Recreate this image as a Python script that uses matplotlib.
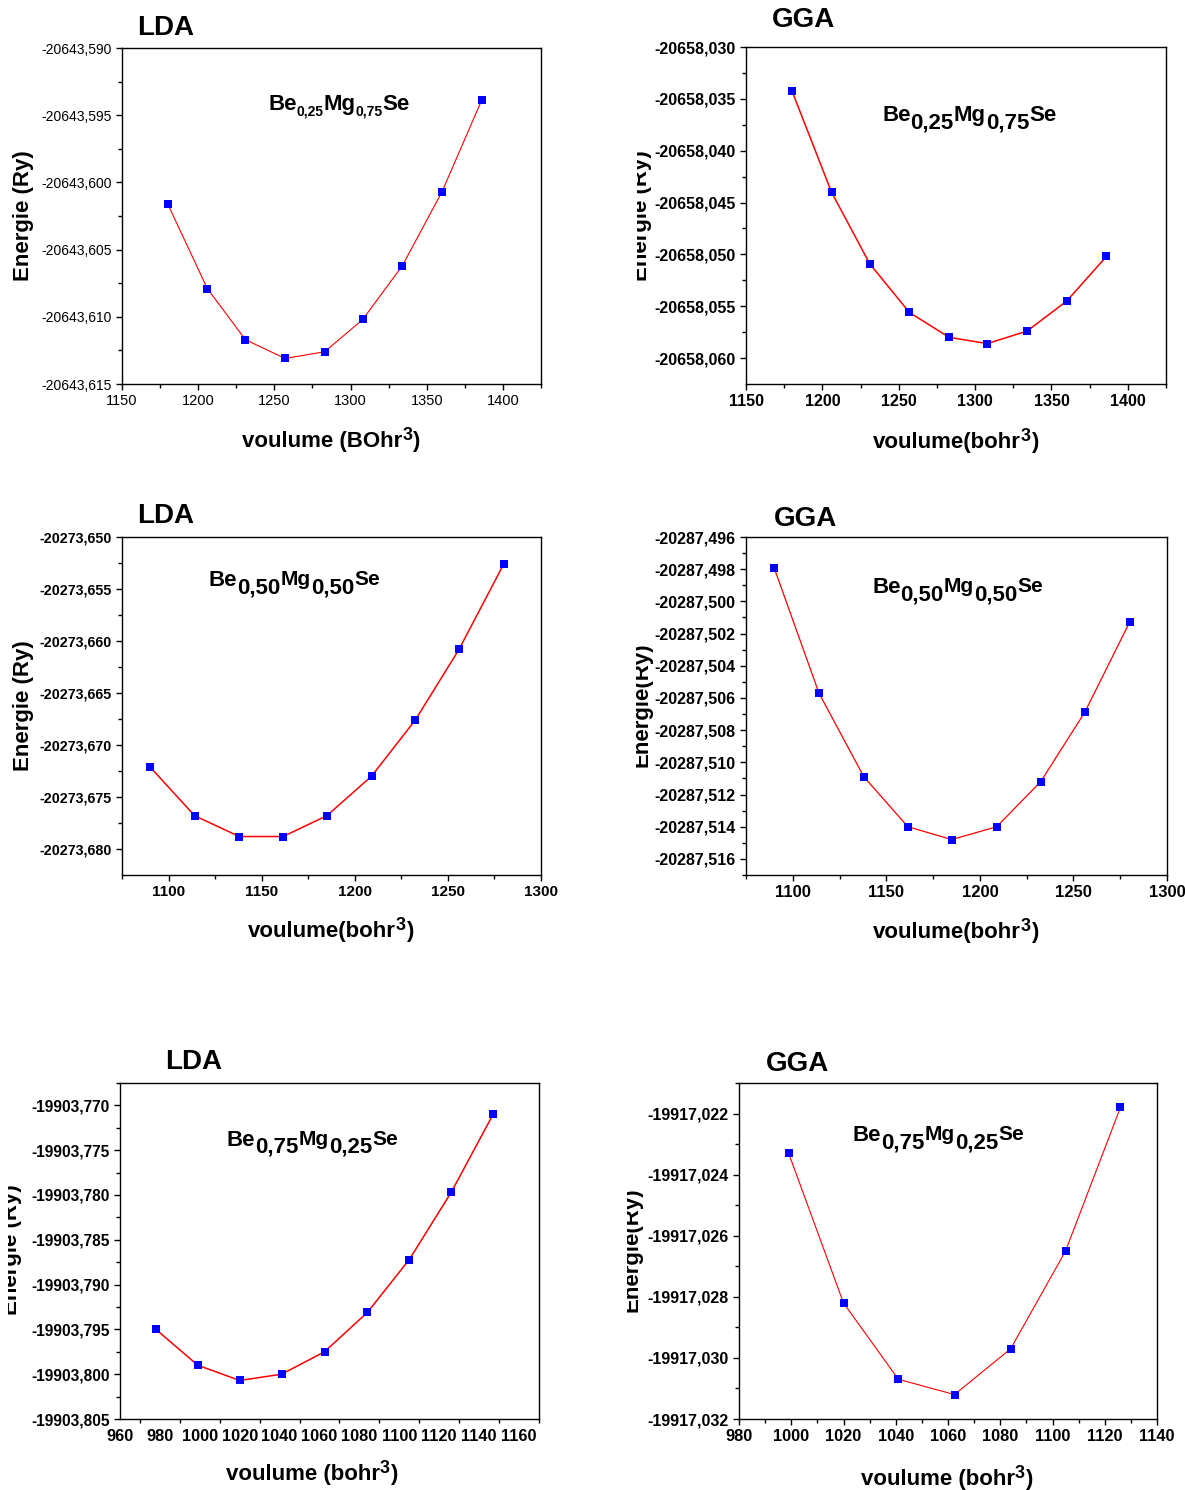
import matplotlib
matplotlib.use("Agg")
import matplotlib.pyplot as plt
import numpy as np
from matplotlib.text import Annotation
from matplotlib.transforms import Bbox, TransformedBbox

plt.rcParams["font.family"] = ["Liberation Sans", "DejaVu Sans"]

# ---------------------------------------------------------------- data
# Be0.25Mg0.75Se
vol_025 = [1180, 1206, 1231, 1257, 1283, 1308, 1334, 1360, 1386]
e_lda_025 = [-20643.6016, -20643.6079, -20643.6117, -20643.6131, -20643.6126,
             -20643.6102, -20643.6062, -20643.6007, -20643.5939]
e_gga_025 = [-20658.0342, -20658.0440, -20658.0509, -20658.0556, -20658.0580,
             -20658.0586, -20658.0574, -20658.0545, -20658.0502]

# Be0.50Mg0.50Se
vol_050 = [1090, 1114, 1138, 1161.5, 1185, 1209, 1232.5, 1256, 1280]
e_lda_050 = [-20273.6721, -20273.6768, -20273.6788, -20273.6788, -20273.6768,
             -20273.6730, -20273.6676, -20273.6608, -20273.6526]
e_gga_050 = [-20287.4979, -20287.5057, -20287.5109, -20287.5140, -20287.5148,
             -20287.5140, -20287.5112, -20287.5069, -20287.5013]

# Be0.75Mg0.25Se
vol_075_lda = [978, 999, 1020, 1041, 1062.5, 1084, 1105, 1126, 1147]
e_lda_075 = [-19903.7950, -19903.7990, -19903.8007, -19903.8000, -19903.7975,
             -19903.7931, -19903.7872, -19903.7797, -19903.7710]
vol_075_gga = [999, 1020, 1041, 1062.5, 1084, 1105, 1126]
e_gga_075 = [-19917.0233, -19917.0282, -19917.0307, -19917.0312, -19917.0297,
             -19917.0265, -19917.0218]

# ---------------------------------------------------------------- figure
W, H = 1185, 1490
fig = plt.figure(figsize=(W / 100, H / 100), dpi=100)
fig.patch.set_facecolor("white")


def fx(x):
    return x / W


def fy(y):
    return 1 - y / H


def comma(v):
    return f"{v:.3f}".replace(".", ",")


def chain(x, base, parts):
    """Draw a run of bold text pieces, each with its own size and vertical shift."""
    prev = None
    for s, size, dy in parts:
        if prev is None:
            t = fig.text(fx(x), fy(base + dy), s, fontsize=size, fontweight="bold",
                         ha="left", va="baseline")
        else:
            t = Annotation(s, xy=(1, fy(base + dy)), xycoords=(prev, "figure fraction"),
                           fontsize=size, fontweight="bold", ha="left", va="baseline")
            fig.add_artist(t)
        prev = t


def panel(box, x, y, xlim, ylim, ymaj, ymin, xmaj, xmin, lw,
          bold, ysize, xsize):
    l, t, r, b = box
    ax = fig.add_axes([fx(l), fy(b), (r - l) / W, (b - t) / H])
    ax.plot(x, y, color="#FF0000", lw=lw, marker="s", ms=6.4,
            mfc="#0000FF", mec="#0000FF", mew=0, zorder=3)
    ax.set_xlim(*xlim)
    ax.set_ylim(*ylim)
    weight = "bold" if bold else "normal"
    ax.set_yticks(ymaj)
    ax.set_yticklabels([comma(v) for v in ymaj], fontsize=ysize, fontweight=weight)
    ax.set_yticks(ymin, minor=True)
    if xmaj is not None:
        ax.set_xticks(xmaj)
        ax.set_xticklabels([f"{v:g}" for v in xmaj], fontsize=xsize, fontweight=weight)
        ax.set_xticks(xmin, minor=True)
    for sp in ax.spines.values():
        sp.set_linewidth(1.0)
    ax.tick_params(which="both", direction="out", top=False, right=False, width=1.0)
    ax.tick_params(which="major", length=4.5, pad=3)
    ax.tick_params(which="minor", length=3)
    return ax


# Be0.25Mg0.75Se, LDA
panel((122, 48, 541, 384), vol_025, e_lda_025, (1150, 1425), (-20643.615, -20643.590),
      np.linspace(-20643.615, -20643.590, 6), np.linspace(-20643.6125, -20643.5925, 5),
      [1150, 1200, 1250, 1300, 1350, 1400], [1175, 1225, 1275, 1325, 1375, 1425],
      0.8, False, 10, 10.5)

# Be0.25Mg0.75Se, GGA
panel((746, 47, 1166, 384), vol_025, e_gga_025, (1150, 1425), (-20658.0625, -20658.030),
      np.linspace(-20658.060, -20658.030, 7), np.linspace(-20658.0575, -20658.0325, 6),
      [1150, 1200, 1250, 1300, 1350, 1400], [1175, 1225, 1275, 1325, 1375, 1425],
      1.1, True, 11.5, 11.5)

# Be0.50Mg0.50Se, LDA
panel((122, 537, 541, 875), vol_050, e_lda_050, (1075, 1300), (-20273.6825, -20273.650),
      np.linspace(-20273.680, -20273.650, 7), np.linspace(-20273.6775, -20273.6525, 6),
      [1100, 1150, 1200, 1250, 1300], [1075, 1125, 1175, 1225, 1275],
      1.1, True, 10.3, 11)

# Be0.50Mg0.50Se, GGA
panel((746, 537, 1167, 875), vol_050, e_gga_050, (1075, 1300), (-20287.517, -20287.496),
      np.linspace(-20287.516, -20287.496, 11), np.linspace(-20287.517, -20287.497, 11),
      [1100, 1150, 1200, 1250, 1300], [1075, 1125, 1175, 1225, 1275],
      0.9, True, 11.5, 12)

# Be0.75Mg0.25Se, LDA (tick marks sit halfway between the labelled values)
ax5 = panel((120, 1083, 539, 1419), vol_075_lda, e_lda_075, (960, 1170),
            (-19903.805, -19903.7675),
            np.linspace(-19903.805, -19903.770, 8), np.linspace(-19903.8025, -19903.7675, 8),
            None, None, 1.1, True, 11.2, 11.5)
ax5.set_xticks(np.arange(970, 1171, 20))
ax5.set_xticklabels([])
ax5.set_xticks(np.arange(960, 1161, 20), minor=True)
ax5.set_xticklabels([str(v) for v in range(960, 1161, 20)], minor=True,
                    fontsize=11.8, fontweight="bold")
ax5.tick_params(axis="x", which="minor", length=0, pad=7.5)
ax5.tick_params(axis="x", which="major", length=3)

# Be0.75Mg0.25Se, GGA
panel((739, 1083, 1157, 1419), vol_075_gga, e_gga_075, (980, 1140), (-19917.032, -19917.021),
      np.linspace(-19917.032, -19917.022, 6), np.linspace(-19917.031, -19917.021, 6),
      list(range(980, 1141, 20)), list(range(990, 1131, 20)),
      0.8, True, 11.5, 11.8)

# ---------------------------------------------------------------- titles
for s, x, y in [("LDA", 137, 28), ("GGA", 772, 20), ("LDA", 137, 516),
                ("GGA", 774, 519), ("LDA", 165, 1062), ("GGA", 766, 1064)]:
    fig.text(fx(x), fy(y), s, fontsize=20, fontweight="bold", ha="left", va="center")

# ---------------------------------------------------------------- formulas
chain(268, 110, [("Be", 16, 0), ("0,25", 10, 5), ("Mg", 16, 0), ("0,75", 10, 5), ("Se", 16, 0)])
chain(882, 121, [("Be", 16, 0), ("0,25", 16, 7), ("Mg", 16, 0), ("0,75", 16, 7), ("Se", 16, 0)])
chain(209, 586, [("Be", 16, 0), ("0,50", 16, 7), ("Mg", 15, -1), ("0,50", 16, 7), ("Se", 15, -1)])
chain(872, 593, [("Be", 16, 0), ("0,50", 16, 7), ("Mg", 15, -1), ("0,50", 16, 7), ("Se", 15, -1)])
chain(227, 1146, [("Be", 16, 0), ("0,75", 16, 7), ("Mg", 15, -1), ("0,25", 16, 7), ("Se", 15, -1)])
chain(853, 1141, [("Be", 16, 0), ("0,75", 16, 7), ("Mg", 15, -1), ("0,25", 16, 7), ("Se", 15, -1)])

# ---------------------------------------------------------------- x labels
chain(242, 447, [("voulume (BOhr", 16, 0), ("3", 13, -7), (")", 16, 0)])
chain(873, 448, [("voulume(bohr", 16, 0), ("3", 13, -7), (")", 16, 0)])
chain(248, 937, [("voulume(bohr", 16, 0), ("3", 13, -7), (")", 16, 0)])
chain(873, 938, [("voulume(bohr", 16, 0), ("3", 13, -7), (")", 16, 0)])
chain(226, 1480, [("voulume (bohr", 16, 0), ("3", 13, -7), (")", 16, 0)])
chain(861, 1485, [("voulume (bohr", 16, 0), ("3", 13, -7), (")", 16, 0)])

# ---------------------------------------------------------------- y labels
for s, x, y, clip in [("Energie (Ry)", 23, 216, None),
                      ("Energie (Ry)", 642, 216, 637),
                      ("Energie (Ry)", 23, 706, None),
                      ("Energie(Ry)", 642, 705, 636),
                      ("Energie (Ry)", 12, 1250, 8),
                      ("Energie(Ry)", 632, 1250, 627)]:
    t = fig.text(fx(x), fy(y), s, fontsize=16, fontweight="bold", rotation=90,
                 ha="center", va="center")
    if clip is not None:
        t.set_clip_box(TransformedBbox(Bbox.from_extents(fx(clip), 0, 1, 1),
                                       fig.transFigure))
        t.set_clip_on(True)

fig.savefig("out.png", dpi=100, facecolor="white")
